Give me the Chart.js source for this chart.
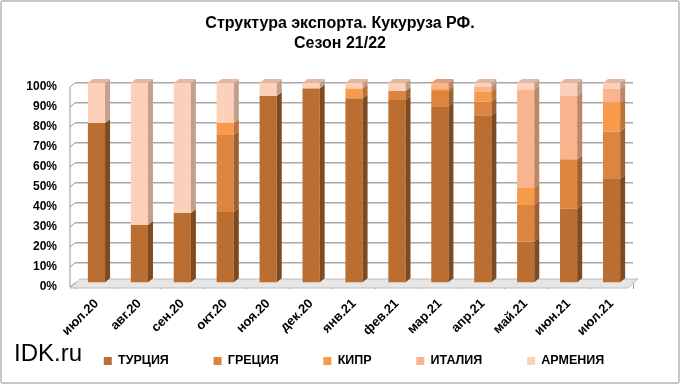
<!DOCTYPE html>
<html>
<head>
<meta charset="utf-8">
<script src="https://cdn.jsdelivr.net/npm/chart.js@4/dist/chart.umd.min.js"></script>
<style>
body { margin: 0; background: #fff; }
#wrap { position: relative; width: 680px; height: 384px; }
#frame { position: absolute; left: 0; top: 0; width: 676px; height: 380px; border: 2px solid #c6c6c6; border-radius: 3px; pointer-events: none; }
#logo { position: absolute; left: 14px; top: 341px; font: 24px "Liberation Sans", Arial, sans-serif; line-height: 24px; color: #000; }
</style>
</head>
<body>
<div id="wrap">
  <canvas id="myChart" width="680" height="384"></canvas>
  <div id="frame"></div>
  <div id="logo">IDK.ru</div>
</div>
<script>
// data, share of exports in %
var months = ["июл.20", "авг.20", "сен.20", "окт.20", "ноя.20", "дек.20", "янв.21", "фев.21", "мар.21", "апр.21", "май.21", "июн.21", "июл.21"];
var turkey  = [80, 29, 35, 35.5, 93.5, 97.3, 92.2, 91.5, 88.2, 83.7, 20.7, 37.3, 52];
var greece  = [0, 0, 0, 38.5, 0, 0, 0, 4.5, 7.8, 7, 18.3, 24.5, 23.7];
var cyprus  = [0, 0, 0, 6, 0, 0, 5, 0, 1.3, 5, 8.8, 0, 14.5];
var italy   = [0, 0, 0, 0, 0, 0, 0, 0, 2.7, 2.3, 48.7, 31.7, 6.8];
var armenia = [20, 71, 65, 20, 6.5, 2.7, 2.8, 4, 0, 2, 3.5, 6.5, 3];
var seriesNames = ["ТУРЦИЯ", "ГРЕЦИЯ", "КИПР", "ИТАЛИЯ", "АРМЕНИЯ"];
var yTickLabels = ["0%", "10%", "20%", "30%", "40%", "50%", "60%", "70%", "80%", "90%", "100%"];

var frontColors = ['#BA6E31', '#DC8540', '#F89A4C', '#F9B48D', '#FCD0B9'];
var sideColors  = ['#7F4A1F', '#A0602D', '#BD7337', '#BC8767', '#C3A08E'];
var topColors   = ['#9D5C28', '#BE7337', '#DB8741', '#DA9E7A', '#E0B8A4'];

var dx = 5, dy = 4;
var font = "'Liberation Sans', Arial, sans-serif";
var legendGap = "          "; // extra room between legend items

// fake 3d: side and top faces, floor and left wall
var bar3d = {
    id: 'bar3d',
    beforeDatasetsDraw: function(chart){
        var ctx = chart.ctx;
        var a = chart.chartArea;
        var ys = chart.scales.y;
        ctx.save();
        ctx.fillStyle = '#e6e6e6';
        ctx.beginPath();
        ctx.moveTo(a.left - 5, a.bottom + 5);
        ctx.lineTo(a.left + 5, a.bottom - 4);
        ctx.lineTo(a.right + 5, a.bottom - 4);
        ctx.lineTo(a.right - 5, a.bottom + 5);
        ctx.closePath();
        ctx.fill();
        ctx.strokeStyle = '#bcbcbc';
        ctx.lineWidth = 1;
        ctx.stroke();

        ctx.strokeStyle = '#9a9a9a';
        ctx.beginPath();
        ctx.moveTo(a.left - 5, ys.getPixelForValue(100) + 4);
        ctx.lineTo(a.left - 5, ys.getPixelForValue(0) + 4);
        ys.ticks.forEach(function(t){
            var py = ys.getPixelForValue(t.value);
            ctx.moveTo(a.left - 5, py + 4);
            ctx.lineTo(a.left, py);
        });
        ctx.stroke();
        ctx.restore();
    },
    afterDatasetsDraw: function(chart){
        var ctx = chart.ctx;
        var tops = [];
        ctx.save();
        chart.data.datasets.forEach(function(ds, di){
            var meta = chart.getDatasetMeta(di);
            meta.data.forEach(function(bar, i){
                var p = bar.getProps(['x', 'y', 'base', 'width'], true);
                if (Math.abs(p.base - p.y) < 0.5) return;
                var r = p.x + p.width / 2;
                ctx.fillStyle = sideColors[di];
                ctx.beginPath();
                ctx.moveTo(r, p.y);
                ctx.lineTo(r + dx, p.y - dy);
                ctx.lineTo(r + dx, p.base - dy);
                ctx.lineTo(r, p.base);
                ctx.closePath();
                ctx.fill();
                if (!tops[i] || p.y < tops[i].y){
                    tops[i] = {x: p.x, y: p.y, w: p.width, di: di};
                }
            });
        });
        tops.forEach(function(t){
            if (!t) return;
            var l = t.x - t.w / 2;
            ctx.fillStyle = topColors[t.di];
            ctx.beginPath();
            ctx.moveTo(l, t.y);
            ctx.lineTo(l + dx, t.y - dy);
            ctx.lineTo(l + t.w + dx, t.y - dy);
            ctx.lineTo(l + t.w, t.y);
            ctx.closePath();
            ctx.fill();
        });
        ctx.restore();
    }
};

var seriesData = [turkey, greece, cyprus, italy, armenia];
var datasets = [];
for (var i = 0; i < seriesNames.length; i++) {
    datasets.push({
        label: seriesNames[i],
        data: seriesData[i],
        backgroundColor: frontColors[i],
        borderWidth: 0,
        barPercentage: 0.4,
        categoryPercentage: 1
    });
}

var myChart = new Chart('myChart', {
    type: 'bar',
    data: {
        labels: months,
        datasets: datasets
    },
    plugins: [bar3d],
    options: {
        responsive: false,
        animation: false,
        layout: { padding: { left: 0, right: 0, top: 0, bottom: 6.75 } },
        plugins: {
            title: {
                display: true,
                text: ["Структура экспорта. Кукуруза РФ.", "Сезон 21/22"],
                color: '#000',
                font: { family: font, size: 16, weight: 'bold', lineHeight: 1.25 },
                padding: { top: 14, bottom: 29 }
            },
            legend: {
                position: 'bottom',
                fullSize: false,
                labels: {
                    color: '#000',
                    font: { family: font, size: 12.5, weight: 'bold' },
                    boxWidth: 8,
                    boxHeight: 8,
                    padding: 10,
                    generateLabels: function(chart){
                        var items = Chart.defaults.plugins.legend.labels.generateLabels(chart);
                        for (var k = 0; k < items.length - 1; k++) {
                            items[k].text += legendGap;
                        }
                        return items;
                    }
                }
            },
            tooltip: { enabled: false }
        },
        scales: {
            x: {
                stacked: true,
                grid: { drawOnChartArea: false, tickLength: 6, color: '#a0a0a0' },
                border: { display: false },
                ticks: {
                    color: '#000',
                    font: { family: font, size: 13, weight: 'bold' },
                    minRotation: 45,
                    maxRotation: 45,
                    autoSkip: false,
                    padding: 7
                },
                afterFit: function(s){ s.height = 61.75; }
            },
            y: {
                stacked: true,
                min: 0,
                max: 100,
                grid: { color: '#a8a8a8', lineWidth: 1.5, drawTicks: false },
                border: { display: false },
                ticks: {
                    stepSize: 10,
                    autoSkip: false,
                    padding: 18,
                    labelOffset: 4,
                    color: '#000',
                    font: { family: font, size: 12, weight: 'bold' },
                    callback: function(value, index){ return yTickLabels[index]; }
                },
                afterFit: function(s){ s.width = 75; }
            },
            y2: {
                position: 'right',
                grid: { display: false },
                border: { display: false },
                ticks: { display: false },
                afterFit: function(s){ s.width = 47; }
            }
        }
    }
});
</script>
</body>
</html>
